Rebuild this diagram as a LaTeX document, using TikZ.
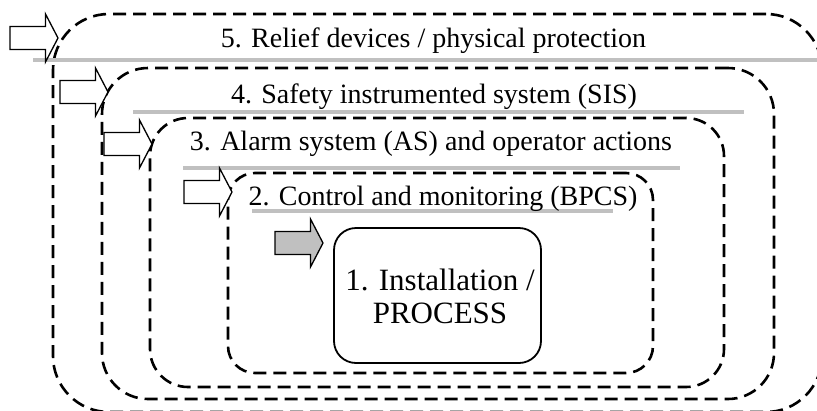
\documentclass[tikz,border=0pt]{standalone}
\usepackage{fontspec}
\setmainfont{Liberation Serif}
\usetikzlibrary{positioning, calc}
\definecolor{ruleGray}{HTML}{C0C0C0}
\definecolor{coreArrow}{HTML}{C0C0C0}
\tikzset{
    layer/.style={rectangle, draw=black, line width=2.6pt, dash pattern=on 13pt off 7pt, anchor=north west, inner sep=0pt, outer sep=0pt},
    core/.style={rectangle, draw=black, line width=1.8pt, rounded corners=22pt, anchor=north west, inner sep=0pt, outer sep=0pt},
    layertext/.style={anchor=base, inner sep=0pt, font=\fontsize{28}{33}\selectfont},
    rulerline/.style={draw=ruleGray, line width=4pt},
    barrier/.pic={\draw[pic actions, line width=1.3pt] (0,0) -- (-12.5,-24) -- (-12.5,-11.5) -- (-48,-11.5) -- (-48,11.5) -- (-12.5,11.5) -- (-12.5,24) -- cycle;},
}
\begin{document}
\begin{tikzpicture}[x=1pt, y=-1pt]
    \useasboundingbox (0,0) rectangle (817,410);
    \clip (0,0) rectangle (817,410);

    % Layers
    \node[layer, rounded corners=56pt, minimum width=769pt, minimum height=398pt] (relief) at (53,14) {};
    \node[layer, rounded corners=46pt, minimum width=672pt, minimum height=331pt] (sis) at (102,68) {};
    \node[layer, rounded corners=38pt, minimum width=574pt, minimum height=269pt] (alarm) at (150,118) {};
    \node[layer, rounded corners=27pt, minimum width=425pt, minimum height=200pt] (bpcs) at (228,173) {};
    \node[core, minimum width=207pt, minimum height=135pt] (process) at (334,228) {};

    % Rules under the titles
    \draw[rulerline] (33,60) -- (817,60);
    \draw[rulerline] (133,112) -- (744,112);
    \draw[rulerline] (183,168) -- (680,168);
    \draw[rulerline] (252,211) -- (613,211);

    % Arrows
    \pic[fill=white] at (58,38) {barrier};
    \pic[fill=white] at (108,92) {barrier};
    \pic[fill=white] at (152,144) {barrier};
    \pic[fill=white] at (232,192) {barrier};
    \pic[fill=coreArrow] at (323,243) {barrier};

    % Titles
    \node[layertext] (relieftext) at (433.5,47) {5. Relief devices / physical protection};
    \node[layertext] (sistext) at (434,103) {4. Safety instrumented system (SIS)};
    \node[layertext] (alarmtext) at (431,150) {3. Alarm system (AS) and operator actions};
    \node[layertext] (bpcstext) at (443,205) {2. Control and monitoring (BPCS)};
    \node[layertext, align=center, font=\fontsize{31}{33}\selectfont] (processtext) at (440,323) {1. Installation /\\PROCESS};
\end{tikzpicture}
\end{document}
